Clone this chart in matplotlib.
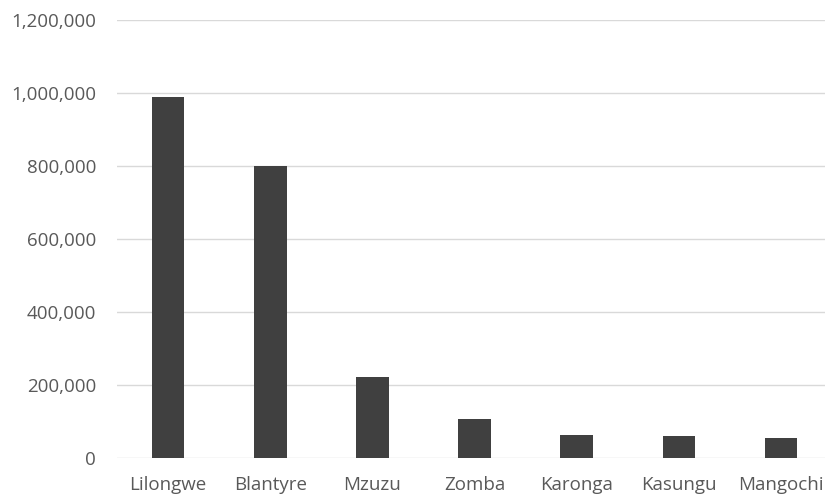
import matplotlib.pyplot as plt
from matplotlib.ticker import FuncFormatter

# Population by city
cities = ['Lilongwe', 'Blantyre', 'Mzuzu', 'Zomba', 'Karonga', 'Kasungu', 'Mangochi']
population = [989318, 800264, 221272, 105013, 61609, 58653, 53498]

plt.rcParams['font.family'] = ['Open Sans', 'DejaVu Sans']

fig = plt.figure(figsize=(8.25, 4.98), dpi=100)
ax = fig.add_axes([0.1418, 0.0809, 0.8582, 0.8789])

x = range(len(cities))
ax.bar(x, population, width=0.32, color='#404040', zorder=3)

ax.set_ylim(0, 1200000)
ax.set_yticks(range(0, 1200001, 200000))
ax.yaxis.set_major_formatter(FuncFormatter(lambda v, p: f'{int(v):,}'))
ax.set_xlim(-0.5, 6.43)
ax.set_xticks(list(x))
ax.set_xticklabels(cities)

ax.grid(axis='y', color='#d9d9d9', linewidth=1, zorder=0)
for s in ax.spines.values():
    s.set_visible(False)
ax.tick_params(axis='both', length=0, labelsize=13.5, colors='#595959')
ax.tick_params(axis='y', pad=15)
ax.tick_params(axis='x', pad=13)

fig.savefig('out.png', dpi=100)
